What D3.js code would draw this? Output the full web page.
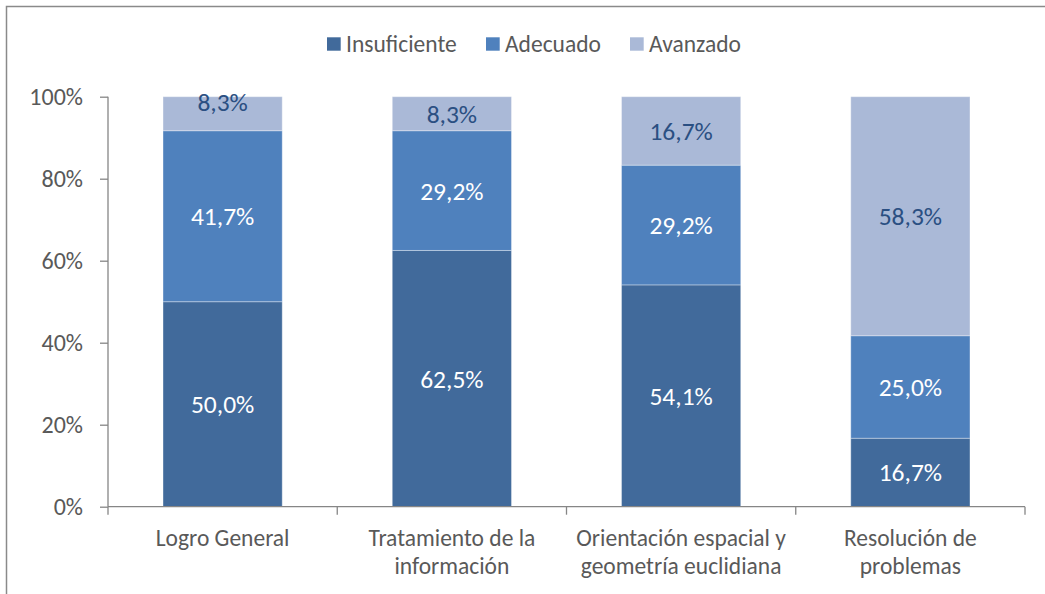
<!DOCTYPE html>
<html>
<head>
<meta charset="utf-8">
<script src="https://cdn.jsdelivr.net/npm/d3@7"></script>
<style>
  body { margin: 0; background: #fff; }
  svg text { font-family: Carlito, Calibri, Lato, sans-serif; }
</style>
</head>
<body>
<svg id="chart" width="1045" height="594"></svg>
<script>
// dati
var categorie = [["Logro General"], ["Tratamiento de la", "información"],
                 ["Orientación espacial y", "geometría euclidiana"], ["Resolución de", "problemas"]];
var serie = ["Insuficiente", "Adecuado", "Avanzado"];
var insuficiente = [50.0, 62.5, 54.1, 16.7];
var adecuado = [41.7, 29.2, 29.2, 25.0];
var avanzado = [8.3, 8.3, 16.7, 58.3];
var tickY = [0, 20, 40, 60, 80, 100];

var colori = ["#416a9b", "#4f81bd", "#aab9d7"];
var coloriTesto = ["#ffffff", "#ffffff", "#2a4f82"];

var svg = d3.select("#chart");
var margSx = 108, margDx = 1025, margSu = 96.7, margGiu = 506.7;

// cornice
svg.append("rect")
    .attr("x", 6.5).attr("y", 6.5)
    .attr("width", 1060).attr("height", 620)
    .attr("fill", "none")
    .attr("stroke", "#8a8a8a")
    .attr("stroke-width", 1.5);

var x = d3.scaleBand()
    .domain(d3.range(categorie.length))
    .range([margSx, margDx])
    .padding(0);

var y = d3.scaleLinear()
    .domain([0, 100])
    .range([margGiu, margSu]);

var righe = categorie.map(function(c, i) {
    return { i: i, Insuficiente: insuficiente[i], Adecuado: adecuado[i], Avanzado: avanzado[i] };
});
var stack = d3.stack().keys(serie)(righe);

var larghezza = x.bandwidth() * 0.52;

var gruppi = svg.append("g").selectAll("g")
    .data(stack)
    .enter()
    .append("g")
    .attr("fill", function(d, k) { return colori[k]; });

gruppi.selectAll("rect")
    .data(function(d) { return d; })
    .enter()
    .append("rect")
    .attr("x", function(d) { return x(d.data.i) + (x.bandwidth() - larghezza) / 2; })
    .attr("y", function(d) { return y(d[1]); })
    .attr("width", larghezza)
    .attr("height", function(d) { return y(d[0]) - y(d[1]); })
    .attr("stroke", "rgba(255,255,255,0.35)")
    .attr("stroke-width", 1);

// etichette dei valori
var spostamento = { "0-2": -12 };   // Excel sposta un po' questa
stack.forEach(function(s, k) {
    svg.append("g").selectAll("text")
        .data(s)
        .enter()
        .append("text")
        .attr("x", function(d) { return x(d.data.i) + x.bandwidth() / 2; })
        .attr("y", function(d) {
            return (y(d[0]) + y(d[1])) / 2 + (spostamento[d.data.i + "-" + k] || 0);
        })
        .attr("dy", "0.35em")
        .attr("text-anchor", "middle")
        .attr("font-size", 25.5)
        .attr("fill", coloriTesto[k])
        .text(function(d) { return (d[1] - d[0]).toFixed(1).replace(".", ",") + "%"; });
});

// asse y
var assey = svg.append("g")
    .attr("transform", "translate(" + margSx + ",0)")
    .call(d3.axisLeft(y).tickValues(tickY).tickSize(8).tickPadding(17)
        .tickFormat(function(d) { return d + "%"; }));
assey.selectAll("line, path").attr("stroke", "#868686").attr("stroke-width", 1.3);
assey.select("path").attr("d", "M0," + margSu + "V" + margGiu);
assey.selectAll("text").attr("font-size", 24).attr("fill", "#595959")
    .style("font-family", "Carlito, Calibri, Lato, sans-serif");

// asse x
var assex = svg.append("g").attr("transform", "translate(0," + margGiu + ")");
assex.append("line")
    .attr("x1", margSx).attr("x2", margDx)
    .attr("stroke", "#868686").attr("stroke-width", 1.3);
assex.selectAll(".tacca")
    .data(d3.range(categorie.length + 1))
    .enter()
    .append("line")
    .attr("x1", function(d) { return margSx + d * x.step(); })
    .attr("x2", function(d) { return margSx + d * x.step(); })
    .attr("y1", 0).attr("y2", 8)
    .attr("stroke", "#868686").attr("stroke-width", 1.3);

assex.selectAll(".cat")
    .data(categorie)
    .enter()
    .append("text")
    .attr("x", function(d, i) { return x(i) + x.bandwidth() / 2; })
    .attr("y", 31)
    .attr("text-anchor", "middle")
    .attr("font-size", 23.5)
    .attr("fill", "#595959")
    .each(function(d) {
        var t = d3.select(this);
        d.forEach(function(riga, j) {
            t.append("tspan")
                .attr("x", t.attr("x"))
                .attr("dy", j === 0 ? "0.35em" : 28.5)
                .text(riga);
        });
    });

// legenda
var voci = [{ q: 327, t: 346 }, { q: 486, t: 505 }, { q: 630, t: 649 }];
var legenda = svg.append("g");
serie.forEach(function(s, k) {
    legenda.append("rect")
        .attr("x", voci[k].q).attr("y", 37.3)
        .attr("width", 13.7).attr("height", 13.4)
        .attr("fill", colori[k]);
    legenda.append("text")
        .attr("x", voci[k].t).attr("y", 44)
        .attr("dy", "0.35em")
        .attr("font-size", 23.5)
        .attr("fill", "#595959")
        .text(s);
});
</script>
</body>
</html>
